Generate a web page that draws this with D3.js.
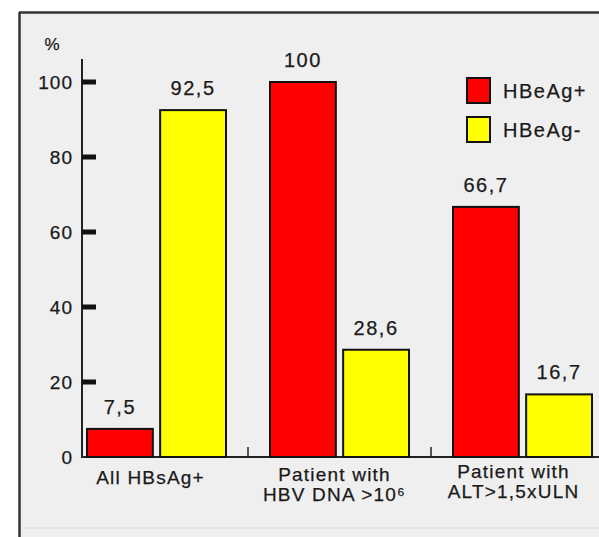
<!DOCTYPE html>
<html><head><meta charset="utf-8">
<script src="https://cdn.jsdelivr.net/npm/d3@7"></script>
<style>body{margin:0;background:#fff}svg{display:block}text{font-family:"Liberation Sans",Arial,sans-serif;fill:#1a1a1a;stroke:#1a1a1a;stroke-width:0.25}</style>
</head><body>
<script>
const categories = ["All HBsAg+", "Patient with|HBV DNA >10⁶", "Patient with|ALT>1,5xULN"];
const series = ["HBeAg+", "HBeAg-"];
const hbeagPos = [7.5, 100, 66.7];
const hbeagNeg = [92.5, 28.6, 16.7];
const valueLabels = [["7,5", "92,5"], ["100", "28,6"], ["66,7", "16,7"]];
const yTicks = [0, 20, 40, 60, 80, 100];
const colors = ["#ff0000", "#ffff00"];

const W = 599, H = 537;
const svg = d3.select("body").append("svg").attr("width", W).attr("height", H);

// panel
svg.append("rect").attr("x", 19).attr("y", 12).attr("width", W - 19).attr("height", H - 12).attr("fill", "#efefef");
svg.append("line").attr("x1", 19).attr("x2", W).attr("y1", 12.5).attr("y2", 12.5).attr("stroke", "#333").attr("stroke-width", 2.5);
svg.append("line").attr("x1", 19.5).attr("x2", 19.5).attr("y1", 12).attr("y2", H).attr("stroke", "#333").attr("stroke-width", 2.5);
svg.append("line").attr("x1", 21).attr("x2", W).attr("y1", 528).attr("y2", 528).attr("stroke", "#e2e2e2").attr("stroke-width", 1.5);

const y = d3.scaleLinear().domain([0, 100]).range([457, 82]);
const x0 = d3.scaleBand().domain(categories).range([65, 614]);
const x1 = d3.scaleBand().domain(series).range([22, 161]).paddingInner(0.1);

const data = categories.map((c, i) => ({cat: c, i, vals: [hbeagPos[i], hbeagNeg[i]]}));

// y axis
svg.append("line").attr("x1", 82).attr("x2", 82).attr("y1", 59).attr("y2", y(0)).attr("stroke", "#222").attr("stroke-width", 2);
svg.selectAll(".ytick").data(yTicks.filter(d => d > 0)).enter().append("rect")
  .attr("x", 82).attr("y", d => y(d) - 2.5).attr("width", 14).attr("height", 5).attr("fill", "#111");
svg.selectAll(".ylab").data(yTicks).enter().append("text")
  .attr("x", 73).attr("y", d => y(d) + 7).attr("text-anchor", "end")
  .attr("font-size", 19).attr("letter-spacing", 1).text(d => d);
svg.append("text").attr("x", 52).attr("y", 50).attr("text-anchor", "middle").attr("font-size", 17).text("%");

// x axis
svg.append("line").attr("x1", 81).attr("x2", W).attr("y1", y(0)).attr("y2", y(0)).attr("stroke", "#222").attr("stroke-width", 2);
svg.selectAll(".sep").data(categories.slice(1)).enter().append("line")
  .attr("x1", d => x0(d)).attr("x2", d => x0(d)).attr("y1", y(0)).attr("y2", y(0) - 10)
  .attr("stroke", "#222").attr("stroke-width", 1.5);

// bars
const g = svg.selectAll(".grp").data(data).enter().append("g").attr("transform", d => `translate(${x0(d.cat)},0)`);
g.selectAll("rect").data(d => d.vals.map((v, k) => ({v, k, i: d.i}))).enter().append("rect")
  .attr("x", d => x1(series[d.k])).attr("y", d => y(d.v))
  .attr("width", x1.bandwidth()).attr("height", d => y(0) - y(d.v))
  .attr("fill", d => colors[d.k]).attr("stroke", "#111").attr("stroke-width", 2);
g.selectAll("text").data(d => d.vals.map((v, k) => ({v, k, i: d.i}))).enter().append("text")
  .attr("x", d => x1(series[d.k]) + x1.bandwidth() / 2).attr("y", d => y(d.v) - 15)
  .attr("text-anchor", "middle").attr("font-size", 20).attr("letter-spacing", 1.5)
  .text(d => valueLabels[d.i][d.k]);

// category labels
const labDx = [-6, -5, -9];
const labY = [484, 481, 478];
categories.forEach((c, i) => {
  const lines = c.split("|");
  const t = svg.append("text").attr("text-anchor", "middle").attr("font-size", 19).attr("letter-spacing", 1.2);
  lines.forEach((ln, k) => {
    t.append("tspan").attr("x", x0(c) + x0.bandwidth() / 2 + labDx[i]).attr("y", labY[i] + k * 20).text(ln);
  });
});

// legend
const leg = svg.selectAll(".leg").data(series).enter().append("g")
  .attr("transform", (d, k) => `translate(467,${78 + k * 39})`);
leg.append("rect").attr("width", 23).attr("height", 25).attr("fill", (d, k) => colors[k]).attr("stroke", "#111").attr("stroke-width", 2);
leg.append("text").attr("x", 36).attr("y", 20).attr("font-size", 20).attr("letter-spacing", 1.5).text(d => d);
</script>
</body></html>
